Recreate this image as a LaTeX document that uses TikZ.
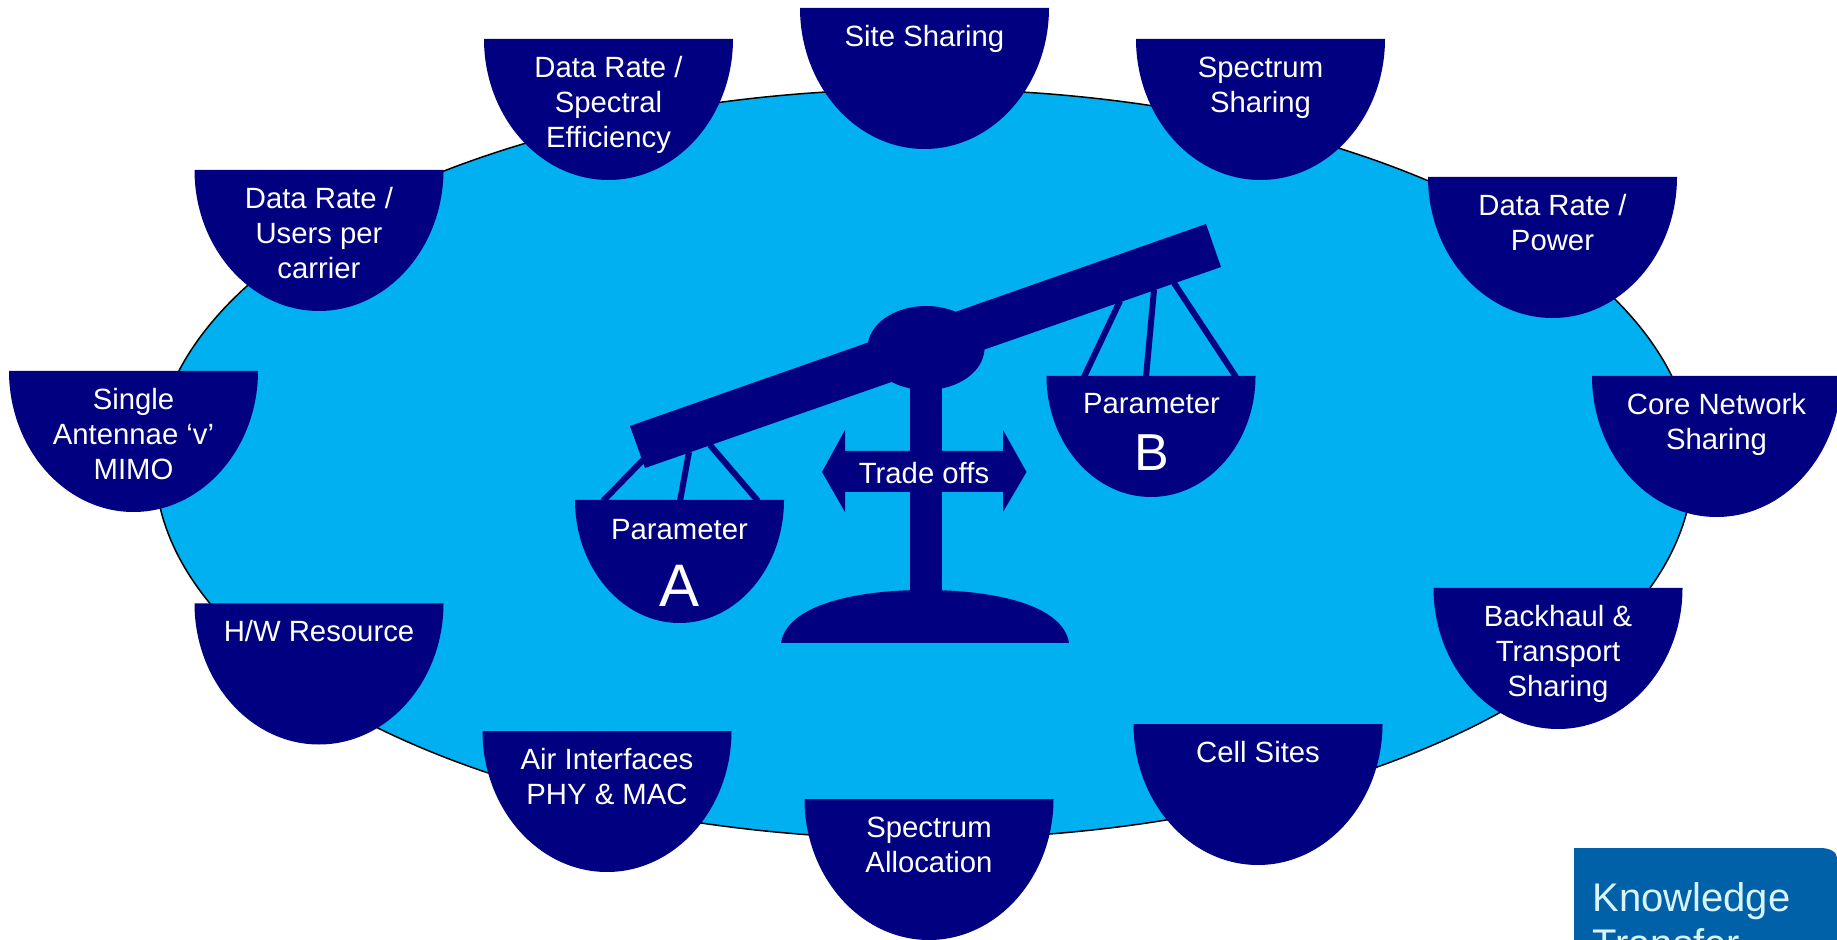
\documentclass[tikz,border=0pt]{standalone}
\usepackage{fontspec}
\usetikzlibrary{shapes.geometric}
\setmainfont{Liberation Sans}
\begin{document}
\begin{tikzpicture}[x=0.5pt,y=-0.5pt]
      \newcommand{\bowlhw}[0]{124.5}
      \newcommand{\bowldepth}[0]{141}
      \newcommand{\bowlshape}[4]{
        \fill[bowl, shift={(#1,#2)}, xscale=#3, yscale=#4]
          (-1,0) .. controls (-1,0.55) and (-0.55,1) .. (0,1)
          .. controls (0.55,1) and (1,0.55) .. (1,0) -- cycle;
      }
      \newcommand{\bowlnode}[4]{
        \bowlshape{#2}{#3}{\bowlhw}{\bowldepth}
        \node[bowltext] (#1) at (#2,#3) {\rule{0pt}{19pt}#4};
      }

      \definecolor{mysky}{HTML}{00B0F0}
      \definecolor{mynavy}{HTML}{000080}
      \definecolor{mylogo}{HTML}{0060A8}
      \definecolor{mylogotext}{HTML}{D8F4F8}

      \tikzstyle{bowl} = [fill=mynavy]
      \tikzstyle{caption} = [
        text=white,
        inner sep=0pt,
        anchor=center,
        align=center,
        font=\fontsize{14.65}{17.5}\selectfont
      ]
      \tikzstyle{bowltext} = [caption, anchor=north]
      \tikzstyle{cord} = [draw=mynavy, line width=3pt]

      \clip (0,0) rectangle (1837,940);

      \node[draw=black, fill=mysky, ellipse, line width=0.75pt, inner sep=0pt,
        minimum width=769pt, minimum height=375pt] (field) at (924,464) {};

      % outer ring
      \bowlnode{site}{924.5}{8}{Site Sharing}
      \bowlnode{rate}{608.5}{39}{Data Rate /\\Spectral\\Efficiency}
      \bowlnode{spectrum}{1260.5}{39}{Spectrum\\Sharing}
      \bowlnode{users}{319}{170}{Data Rate /\\Users per\\carrier}
      \bowlnode{power}{1552.5}{177}{Data Rate /\\Power}
      \bowlnode{mimo}{133.5}{371}{Single\\Antennae ‘v’\\MIMO}
      \bowlnode{core}{1716.5}{376}{Core Network\\Sharing}
      \bowlnode{hw}{319}{603.5}{H/W Resource}
      \bowlnode{backhaul}{1558}{588}{Backhaul \&\\Transport\\Sharing}
      \bowlnode{air}{607}{731}{Air Interfaces\\PHY \& MAC}
      \bowlnode{cell}{1258}{724}{Cell Sites}
      \bowlnode{allocation}{929}{799}{Spectrum\\Allocation}

      % scale
      \fill[bowl] (781,643) .. controls (787,605) and (855,590) .. (925,590)
        .. controls (995,590) and (1063,605) .. (1069,643) -- cycle;
      \fill[bowl] (910,380) rectangle (942,595);
      \fill[bowl] (822,472) -- (845,430) -- (845,451) -- (1003,451) -- (1003,430)
        -- (1026.5,472) -- (1003,512) -- (1003,492) -- (845,492) -- (845,512) -- cycle;
      \node[caption] (tradeoffs) at (924,473) {Trade offs};

      \fill[bowl] (630,426) -- (1206,224) -- (1221,267) -- (645,468) -- cycle;
      \fill[bowl] (926,348) ellipse (58.5 and 42);

      \coordinate (beamAa) at (643,460);
      \coordinate (beamAb) at (689,452);
      \coordinate (beamAc) at (710,445);
      \coordinate (panAa) at (603,501);
      \coordinate (panAb) at (680,501);
      \coordinate (panAc) at (758,501);
      \coordinate (beamBa) at (1120,301);
      \coordinate (beamBb) at (1154,290);
      \coordinate (beamBc) at (1174,283);
      \coordinate (panBa) at (1084,377);
      \coordinate (panBb) at (1146,377);
      \coordinate (panBc) at (1236,377);
      \draw[cord] (beamAa) -- (panAa);
      \draw[cord] (beamAb) -- (panAb);
      \draw[cord] (beamAc) -- (panAc);
      \draw[cord] (beamBa) -- (panBa);
      \draw[cord] (beamBb) -- (panBb);
      \draw[cord] (beamBc) -- (panBc);

      \bowlshape{679.5}{500}{104.5}{123}
      \bowlshape{1151}{376}{104.5}{121}
      \node[caption] (paramA) at (679.5,530) {Parameter};
      \node[caption] (paramB) at (1151.5,404) {Parameter};
      \node[caption, font=\fontsize{30}{32}\selectfont] (letterA) at (679.5,586) {A};
      \node[caption, font=\fontsize{26}{28}\selectfont] (letterB) at (1151.5,453) {B};

      % logo corner
      \fill[mylogo] (1574,960) -- (1574,848) -- (1820,848)
        .. controls (1830,848) and (1837,852) .. (1837,858) -- (1837,960) -- cycle;
      \node[text=mylogotext, anchor=base west, inner sep=0pt, font=\fontsize{20}{24}\selectfont] (knowledge) at (1592,911) {Knowledge};
      \node[text=mylogotext, anchor=base west, inner sep=0pt, font=\fontsize{20}{24}\selectfont] (transfer) at (1592,957) {Transfer};
    \end{tikzpicture}
\end{document}
